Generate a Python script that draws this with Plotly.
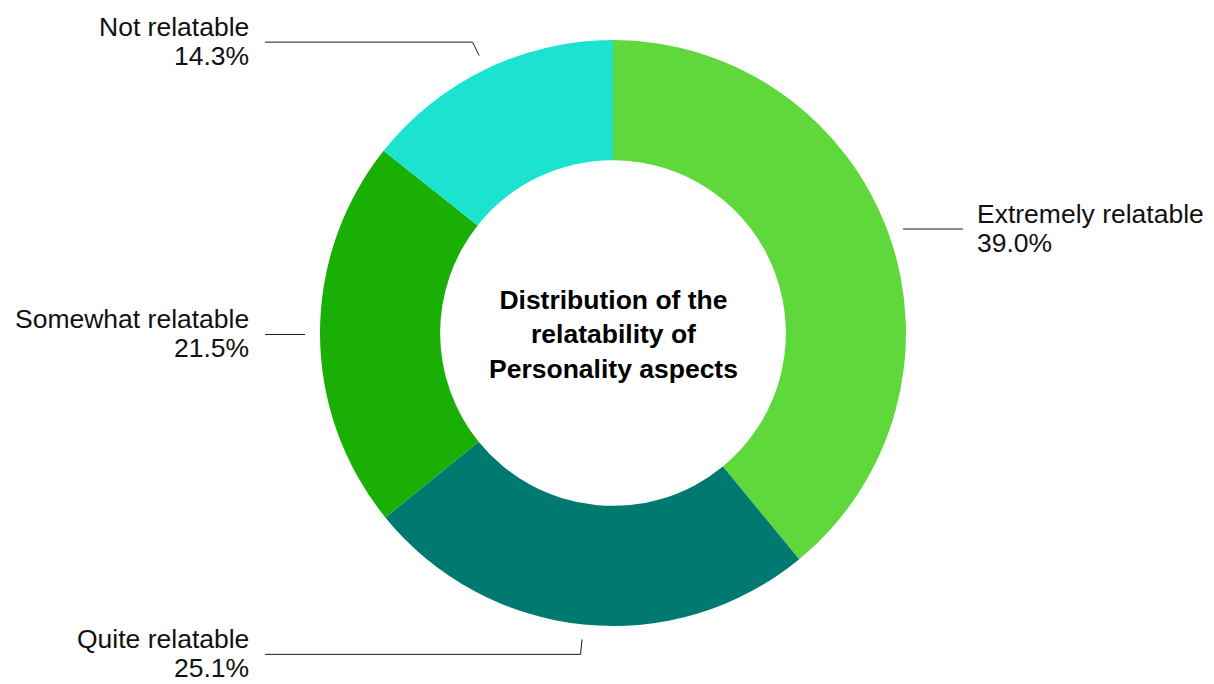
import math
import plotly.graph_objects as go

# ---- data ----
categories = ["Extremely relatable", "Quite relatable", "Somewhat relatable", "Not relatable"]
values = [39.0, 25.1, 21.5, 14.3]
pct_labels = ["39.0%", "25.1%", "21.5%", "14.3%"]
colors = ["#5ED83A", "#007A70", "#1AAF05", "#1BE3CF"]
center_title = "Distribution of the<br>relatability of<br>Personality aspects"

# ---- layout geometry (pixels) ----
W, H = 1214, 684
CX, CY, R = 613, 333, 293
HOLE = 0.59
FONT = "Liberation Sans, Arial, Helvetica, sans-serif"


def px(x):
    return x / W


def py(y):
    return 1 - y / H


fig = go.Figure(go.Pie(
    labels=categories,
    values=values,
    marker=dict(colors=colors, line=dict(width=0)),
    hole=HOLE,
    sort=False,
    direction="clockwise",
    rotation=0,
    textinfo="none",
    hoverinfo="label+percent",
    showlegend=False,
    domain=dict(x=[px(CX - R), px(CX + R)], y=[py(CY + R), py(CY - R)]),
))

# leader lines and labels computed from the slice angles
total = sum(values)
cum = 0.0
shapes = []
annotations = []
for cat, v, pl in zip(categories, values, pct_labels):
    mid = (cum + v / 2) / total * 2 * math.pi
    cum += v
    sx, sy = math.sin(mid), -math.cos(mid)
    x1, y1 = CX + (R + 15) * sx, CY + (R + 15) * sy
    pts = [(x1, y1)]
    if abs(math.cos(mid)) > 0.7:
        x2, y2 = CX + (R + 30) * sx, CY + (R + 30) * sy
        pts.append((x2, y2))
    ly = pts[-1][1]
    right = sx > 0
    xend = CX + 350 if right else CX - 348
    pts.append((xend, ly))
    path = "M " + " L ".join(f"{px(a):.5f},{py(b):.5f}" for a, b in pts)
    shapes.append(dict(type="path", path=path, xref="paper", yref="paper",
                       line=dict(color="#1a1a1a", width=1)))
    tx = xend + 12 if right else xend - 14
    anchor = "left" if right else "right"
    for txt, dy in ((cat, -15), (pl, 14)):
        annotations.append(dict(
            text=txt, x=px(tx), y=py(ly + dy), xref="paper", yref="paper",
            xanchor=anchor, yanchor="middle", showarrow=False, align=anchor,
            font=dict(family=FONT, size=26.5, color="#111111"),
        ))

annotations.append(dict(
    text="<b>" + center_title + "</b>", x=px(CX), y=py(CY + 2), xref="paper", yref="paper",
    xanchor="center", yanchor="middle", showarrow=False, align="center",
    font=dict(family=FONT, size=26.5, color="#000000"),
))

fig.update_layout(
    width=W, height=H,
    margin=dict(l=0, r=0, t=0, b=0),
    paper_bgcolor="white", plot_bgcolor="white",
    shapes=shapes, annotations=annotations,
)

fig.write_html("out.html")
